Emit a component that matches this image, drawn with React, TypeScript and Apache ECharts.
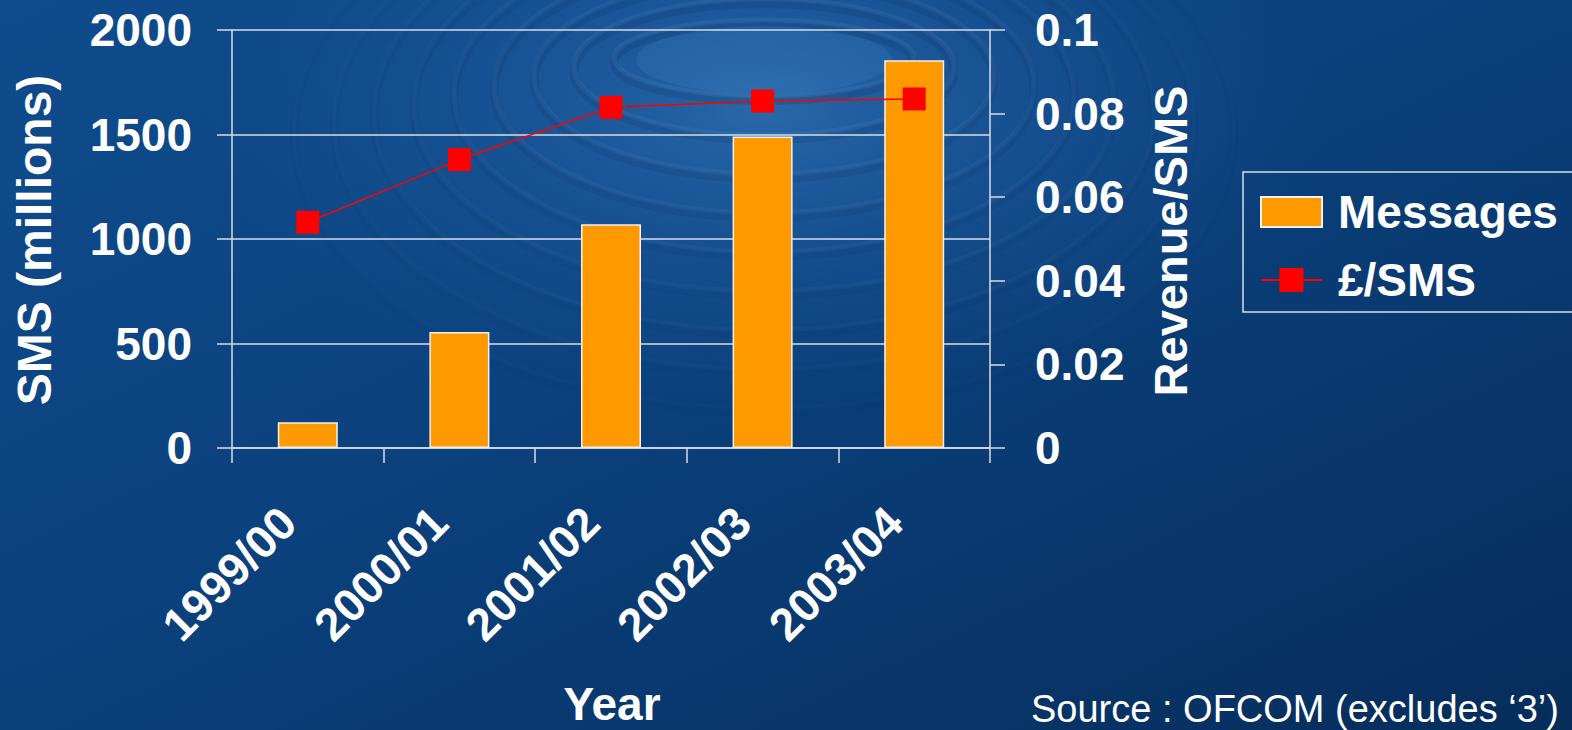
import React, { useEffect, useRef } from "react";
import * as echarts from "echarts";

// Financial years on the category axis
const years = ["1999/00", "2000/01", "2001/02", "2002/03", "2003/04"];
// Text messages sent per year (millions)
const messages = [123, 555, 1070, 1490, 1855];
// Average revenue per SMS (£)
const revenuePerSms = [0.054, 0.069, 0.0815, 0.083, 0.0835];
// Left axis range and step
const smsMin = 0;
const smsMax = 2000;
const smsStep = 500;
// Right axis range and step
const revMin = 0;
const revMax = 0.1;
const revStep = 0.02;

const FONT = '"Liberation Sans", Arial, Helvetica, sans-serif';
const AXIS_GREY = "#d9dde3";

// Concentric ripple rings drawn behind the plot
function rippleRings() {
  const rings: any[] = [];
  for (let i = 0; i < 9; i++) {
    const rx = 150 + i * 40;
    const ry = 38 + i * 30;
    const cy = 58 + i * 9;
    const fade = 1 - i / 10;
    rings.push({
      type: "ellipse",
      silent: true,
      z: -9,
      shape: { cx: 764, cy: cy + 5, rx, ry },
      style: { fill: "none", stroke: `rgba(5,35,80,${0.16 * fade})`, lineWidth: 8 },
    });
    rings.push({
      type: "ellipse",
      silent: true,
      z: -8,
      shape: { cx: 764, cy, rx, ry },
      style: { fill: "none", stroke: `rgba(130,180,235,${0.11 * fade})`, lineWidth: 5 },
    });
  }
  return rings;
}

export default function App() {
  const ref = useRef<HTMLDivElement>(null);

  useEffect(() => {
    if (!ref.current) return;
    const chart = echarts.init(ref.current, undefined, { renderer: "svg" });

    const labelText = {
      color: "#ffffff",
      fontFamily: FONT,
      fontWeight: "bold" as const,
      fontSize: 46,
    };

    chart.setOption({
      animation: false,
      backgroundColor: {
        type: "linear",
        x: 0,
        y: 0,
        x2: 1,
        y2: 1,
        colorStops: [
          { offset: 0, color: "#0f4c8d" },
          { offset: 0.45, color: "#0b417d" },
          { offset: 1, color: "#062d5b" },
        ],
      },
      graphic: [
        {
          type: "ellipse",
          silent: true,
          z: -10,
          shape: { cx: 764, cy: 110, rx: 560, ry: 300 },
          style: {
            fill: {
              type: "radial",
              x: 0.5,
              y: 0.5,
              r: 0.5,
              colorStops: [
                { offset: 0, color: "rgba(70,140,210,0.5)" },
                { offset: 0.5, color: "rgba(50,115,190,0.25)" },
                { offset: 1, color: "rgba(40,100,170,0)" },
              ],
            },
          },
        },
        {
          type: "ellipse",
          silent: true,
          z: -7,
          shape: { cx: 764, cy: 60, rx: 128, ry: 34 },
          style: { fill: "rgba(80,145,210,0.18)" },
        },
        ...rippleRings(),
        {
          type: "text",
          x: 34,
          y: 240,
          rotation: Math.PI / 2,
          style: {
            text: "SMS (millions)",
            fill: "#ffffff",
            font: `bold 48px ${FONT}`,
            align: "center",
            verticalAlign: "middle",
          },
        },
        {
          type: "text",
          x: 1170,
          y: 241,
          rotation: Math.PI / 2,
          style: {
            text: "Revenue/SMS",
            fill: "#ffffff",
            font: `bold 47px ${FONT}`,
            align: "center",
            verticalAlign: "middle",
          },
        },
        {
          type: "text",
          x: 612,
          y: 704,
          style: {
            text: "Year",
            fill: "#ffffff",
            font: `bold 46px ${FONT}`,
            align: "center",
            verticalAlign: "middle",
          },
        },
        {
          type: "text",
          x: 1031,
          y: 709,
          style: {
            text: "Source : OFCOM (excludes \u20183\u2019)",
            fill: "#ffffff",
            font: `38px ${FONT}`,
            align: "left",
            verticalAlign: "middle",
          },
        },
      ],
      legend: {
        orient: "vertical",
        left: 1243,
        top: 172,
        padding: [17, 17, 9, 17],
        borderColor: AXIS_GREY,
        borderWidth: 1.5,
        itemWidth: 61,
        itemHeight: 30,
        itemGap: 22,
        textStyle: { ...labelText, padding: [0, 0, 0, 11] },
        data: [{ name: "Messages", icon: "rect" }, { name: "£/SMS" }],
      },
      grid: { left: 232, right: 582, top: 30, bottom: 282, containLabel: false },
      xAxis: {
        type: "category",
        data: years,
        boundaryGap: true,
        axisLine: { lineStyle: { color: AXIS_GREY, width: 1.5 } },
        axisTick: { show: true, length: 15, alignWithLabel: false, lineStyle: { color: AXIS_GREY, width: 1.5 } },
        axisLabel: { ...labelText, rotate: 45, margin: 47, interval: 0, padding: [0, 28, 0, 0] },
      },
      yAxis: [
        {
          type: "value",
          min: smsMin,
          max: smsMax,
          interval: smsStep,
          axisLine: { show: true, lineStyle: { color: AXIS_GREY, width: 1.5 } },
          axisTick: { show: true, length: 15, lineStyle: { color: AXIS_GREY, width: 1.5 } },
          splitLine: { show: true, lineStyle: { color: AXIS_GREY, width: 1.5 } },
          axisLabel: { ...labelText, margin: 40, formatter: (v: number) => String(v) },
        },
        {
          type: "value",
          min: revMin,
          max: revMax,
          interval: revStep,
          position: "right",
          axisLine: { show: true, lineStyle: { color: AXIS_GREY, width: 1.5 } },
          axisTick: { show: true, length: 15, lineStyle: { color: AXIS_GREY, width: 1.5 } },
          splitLine: { show: false },
          axisLabel: {
            ...labelText,
            margin: 45,
            formatter: (v: number) => String(+v.toFixed(2)),
          },
        },
      ],
      series: [
        {
          name: "Messages",
          type: "bar",
          data: messages,
          barWidth: 60,
          itemStyle: { color: "#ff9900", borderColor: "#f2f2f2", borderWidth: 1.5 },
          z: 2,
        },
        {
          name: "£/SMS",
          type: "line",
          yAxisIndex: 1,
          data: revenuePerSms,
          symbol: "rect",
          symbolSize: [23, 23],
          itemStyle: { color: "#ff0000" },
          lineStyle: { color: "#ff0000", width: 1.5 },
          z: 3,
        },
      ],
    });

    return () => chart.dispose();
  }, []);

  return (
    <div
      ref={ref}
      style={{ position: "fixed", left: 0, top: 0, width: 1572, height: 730 }}
    />
  );
}
